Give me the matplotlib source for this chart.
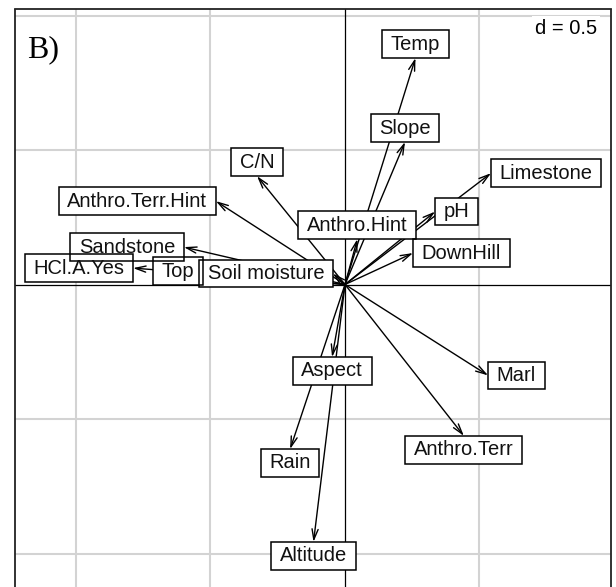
import matplotlib
matplotlib.use("Agg")
import matplotlib.pyplot as plt
import numpy as np

# ---- data (arrow tips, in plot units) ----
labels = ["Temp", "Slope", "Limestone", "pH", "Anthro.Hint", "DownHill", "C/N",
          "Anthro.Terr.Hint", "Sandstone", "HCl.A.Yes", "Top", "Soil moisture",
          "Aspect", "Marl", "Anthro.Terr", "Rain", "Altitude"]
x_vals = [0.262, 0.223, 0.543, 0.335, 0.046, 0.253, -0.327,
          -0.480, -0.599, -0.788, -0.528, -0.045,
          -0.048, 0.532, 0.442, -0.204, -0.117]
y_vals = [0.842, 0.530, 0.414, 0.271, 0.169, 0.117, 0.403,
          0.310, 0.139, 0.061, 0.050, 0.041,
          -0.270, -0.338, -0.563, -0.612, -0.957]
d_step = 0.5
panel = "B)"

# ---- figure ----
W, H, DPI = 616, 587, 100
fig = plt.figure(figsize=(W / DPI, H / DPI), dpi=DPI)
px_left, px_right, px_top, px_bottom = 15, 611, 9.5, 592
ax = fig.add_axes([px_left / W, 1 - px_bottom / H,
                   (px_right - px_left) / W, (px_bottom - px_top) / H])
scale = 269.0
ox, oy = 345.0, 284.5
ax.set_xlim((px_left - ox) / scale, (px_right - ox) / scale)
ax.set_ylim((oy - px_bottom) / scale, (oy - px_top) / scale)
ax.set_xticks([])
ax.set_yticks([])
for s in ax.spines.values():
    s.set_linewidth(1.3)
    s.set_color("#222222")
    s.set_zorder(20)

# grid
xl, yl = ax.get_xlim(), ax.get_ylim()
for g in np.arange(np.ceil(xl[0] / d_step) * d_step, xl[1], d_step):
    if abs(g) > 1e-9:
        ax.axvline(g, color="#d3d3d3", lw=1.5, zorder=0)
for g in np.arange(np.ceil(yl[0] / d_step) * d_step, yl[1], d_step):
    if abs(g) > 1e-9:
        ax.axhline(g, color="#d3d3d3", lw=1.5, zorder=0)
ax.axvline(0, color="black", lw=0.9, zorder=1)
ax.axhline(0, color="black", lw=0.9, zorder=1)

# arrows
for xv, yv in zip(x_vals, y_vals):
    ax.annotate("", xy=(xv, yv), xytext=(0, 0), xycoords="data", textcoords="data",
                arrowprops=dict(arrowstyle="->,head_length=0.75,head_width=0.22",
                                lw=1.0, color="black", shrinkA=0, shrinkB=0,
                                mutation_scale=10), zorder=2)

FS = 14.5
fs_px = FS * DPI / 72.0
hpad_frac = 0.43
asp = 0.5
hp = hpad_frac * fs_px
vp = hp * asp
font = ["Liberation Sans", "DejaVu Sans"]


def placement(xv, yv):
    if xv > yv and xv > -yv:
        return "right"
    if xv > yv and xv <= -yv:
        return "down"
    if xv <= yv and xv <= -yv:
        return "left"
    return "up"


for lab, xv, yv in zip(labels, x_vals, y_vals):
    p = placement(xv, yv)
    if p == "right":
        off, ha, va = (hp, 0), "left", "center"
    elif p == "left":
        off, ha, va = (-hp, 0), "right", "center"
    elif p == "up":
        off, ha, va = (0, vp), "center", "bottom"
    else:
        off, ha, va = (0, -vp), "center", "top"
    common = dict(xy=(xv, yv), xycoords="data", xytext=off, textcoords="offset pixels",
                  ha=ha, va=va, fontsize=FS, family=font)
    ax.annotate(lab, color="none", zorder=3,
                bbox=dict(boxstyle="square,pad=%g" % hpad_frac, mutation_aspect=asp,
                          fc="white", ec="none"), **common)
    ax.annotate(lab, color="none", zorder=4,
                bbox=dict(boxstyle="square,pad=%g" % hpad_frac, mutation_aspect=asp,
                          fc="none", ec="black", lw=1.1), **common)
    ax.annotate(lab, color="#111111", zorder=5, **common)

# d = 0.5 label
ax.text((597 - px_left) / (px_right - px_left), 1 - (28.5 - px_top) / (px_bottom - px_top),
        "d = %g" % d_step, transform=ax.transAxes, ha="right", va="center",
        fontsize=FS, family=font, zorder=6,
        bbox=dict(boxstyle="square,pad=0.15", fc="white", ec="none"))

# panel letter
ax.text((27 - px_left) / (px_right - px_left), 1 - (57.5 - px_top) / (px_bottom - px_top),
        panel, transform=ax.transAxes, ha="left", va="baseline",
        fontsize=23, family=["Liberation Serif", "DejaVu Serif"], zorder=6, clip_on=True,
        bbox=dict(boxstyle="square,pad=0.5", mutation_aspect=0.35, fc="white", ec="none"))

fig.savefig("out.png", dpi=DPI)
